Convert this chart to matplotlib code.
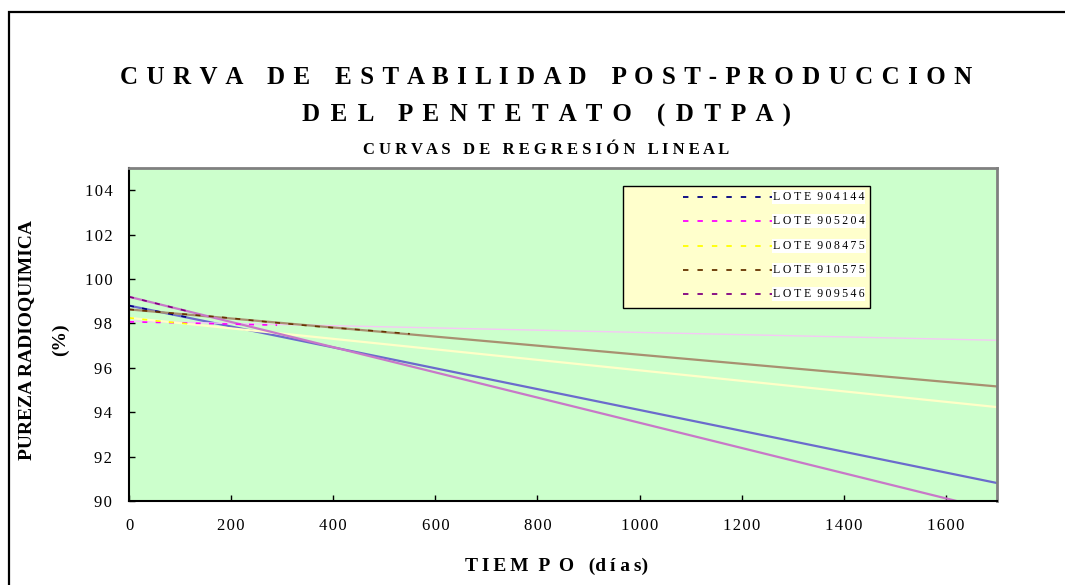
import numpy as np
import matplotlib.pyplot as plt
from matplotlib.patches import Rectangle
from matplotlib.lines import Line2D
from matplotlib.ticker import FuncFormatter

plt.rcParams['font.family'] = ['Liberation Serif', 'DejaVu Serif']

# --- data ---
lotes = ['LOTE 904144', 'LOTE 905204', 'LOTE 908475', 'LOTE 910575', 'LOTE 909546']
data_colors = ['#000080', '#FF00FF', '#FFFF00', '#663300', '#800080']
trend_colors = ['#6B6BCC', '#F5C8F5', '#FFFFC8', '#A89070', '#C878C8']

x_904144 = [0, 60, 120]
y_904144 = [98.8, 98.52, 98.25]
x_905204 = [0, 90, 180, 290]
y_905204 = [98.07, 98.03, 97.98, 97.92]
x_908475 = [0, 60, 130]
y_908475 = [98.25, 98.1, 97.95]
x_910575 = [0, 90, 180, 270, 365, 460, 550]
y_910575 = [98.63, 98.45, 98.28, 98.07, 97.87, 97.7, 97.53]
x_909546 = [0, 60, 120]
y_909546 = [99.2, 98.86, 98.52]

# linear regression lines: value at day 0 and at day 1700
trend_start = [98.8, 98.1, 98.25, 98.63, 99.2]
trend_end = [90.81, 97.24, 94.23, 95.16, 89.55]

series_x = [x_904144, x_905204, x_908475, x_910575, x_909546]
series_y = [y_904144, y_905204, y_908475, y_910575, y_909546]

W, H = 1065, 585
fig = plt.figure(figsize=(W / 100, H / 100), dpi=100)
ax = fig.add_axes([129 / W, 1 - 501 / H, 868 / W, 333 / H])
ax.set_facecolor('#CCFFCC')

# trend lines first, data on top
t = np.array([0, 1700])
for s, e, c in zip(trend_start, trend_end, trend_colors):
    lw = 1.0 if c == '#F5C8F5' else 1.6
    ax.plot(t, [s, e], color=c, lw=lw, solid_capstyle='butt')
for xs, ys, c in zip(series_x, series_y, data_colors):
    ax.plot(xs, ys, color=c, lw=1.2, linestyle=(0, (3, 5)))

ax.set_xlim(0, 1700)
ax.set_ylim(90, 105)
ax.set_xticks(np.arange(0, 1700, 200))
ax.set_yticks(np.arange(90, 105, 2))
spaced_num = FuncFormatter(lambda v, p: '\u200a'.join(str(int(v))))
ax.xaxis.set_major_formatter(spaced_num)
ax.yaxis.set_major_formatter(spaced_num)
ax.tick_params(direction='in', length=4, width=1, labelsize=12)
ax.tick_params(axis='x', pad=12)
ax.tick_params(axis='y', pad=12)
for side in ['left', 'bottom']:
    ax.spines[side].set_linewidth(1.5)
    ax.spines[side].set_color('black')
for side in ['top', 'right']:
    ax.spines[side].set_linewidth(2)
    ax.spines[side].set_color('#808080')

# legend drawn by hand to match the boxed layout
def ax_x(px):
    return (px - 129) / 868

def ax_y(py):
    return (501 - py) / 333

ax.add_patch(Rectangle((ax_x(623), ax_y(308)), ax_x(870) - ax_x(623), ax_y(186) - ax_y(308),
                       transform=ax.transAxes, facecolor='#FFFFCC', edgecolor='black',
                       lw=1, zorder=5))
row_y = [197, 221, 246, 270, 294]
for lab, c, ry in zip(lotes, data_colors, row_y):
    ax.add_line(Line2D([ax_x(683), ax_x(772)], [ax_y(ry), ax_y(ry)], transform=ax.transAxes,
                       color=c, lw=1.3, linestyle=(0, (3, 5)), zorder=6))
    name, num = lab.split()
    ax.text(ax_x(773), ax_y(ry), ' '.join(name) + '  ' + '\u2009'.join(num),
            transform=ax.transAxes, fontsize=8.5, va='center', ha='left', zorder=6,
            bbox=dict(facecolor='white', edgecolor='none', pad=0.6))

# titles, letter-spaced like the original
def spread(s, gap, word_gap):
    return word_gap.join(gap.join(w) for w in s.split())

cx = 546 / W
fig.text(cx, 1 - 78 / H, spread('CURVA DE ESTABILIDAD POST-PRODUCCION', ' \u200a', '    '),
         ha='center', va='center', fontsize=18, fontweight='bold')
fig.text(cx, 1 - 115 / H, spread('DEL PENTETATO (DTPA)', ' \u200a\u200a', '    '),
         ha='center', va='center', fontsize=18, fontweight='bold')
fig.text(cx, 1 - 150 / H, spread('CURVAS DE REGRESIÓN LINEAL', ' ', '   '),
         ha='center', va='center', fontsize=12, fontweight='bold')

fig.text(27 / W, 1 - 340 / H, 'PUREZA RADIOQUIMICA', rotation=90, ha='center', va='center',
         fontsize=14, fontweight='bold')
fig.text(60 / W, 1 - 340 / H, '(%)', rotation=90, ha='center', va='center',
         fontsize=14, fontweight='bold')
fig.text(557 / W, 1 - 566 / H, 'T\u2009I\u2009E\u2009M  P  O   (d\u2009í a\u2009s)',
         ha='center', va='center', fontsize=14, fontweight='bold')

# outer chart frame, running off the right and bottom edges
fig.add_artist(Rectangle((8.5 / W, -0.2), 1.2, 1.2 - 11.5 / H, transform=fig.transFigure,
                         fill=False, edgecolor='black', lw=1.6))

fig.savefig('out.png', dpi=100)
